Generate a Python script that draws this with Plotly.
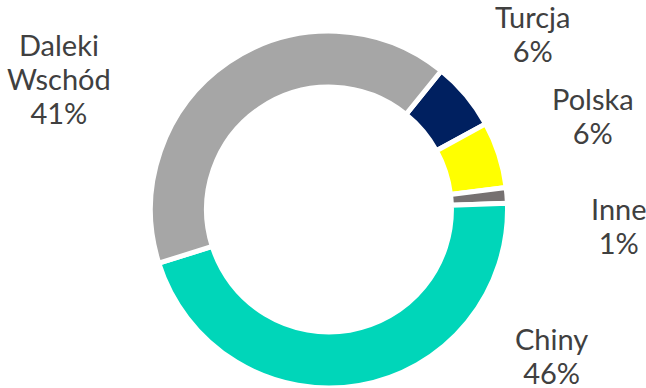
import plotly.graph_objects as go

# Import structure by origin (share, %)
regions = ["Turcja", "Polska", "Inne", "Chiny", "Daleki Wschód"]
shares = [6.2, 6.0, 1.4, 45.7, 40.7]
colors = ["#002060", "#FFFF00", "#767171", "#00D6B9", "#A6A6A6"]

# label anchor points in pixels (x, y) on the 646x388 canvas
label_pos = [(532, 33), (593, 115), (619, 225), (551, 355), (59, 79)]

W, H = 646, 388
cx, cy, R = 329, 209.5, 178.5

fig = go.Figure(
    go.Pie(
        labels=regions,
        values=shares,
        sort=False,
        direction="clockwise",
        rotation=39,
        hole=0.686,
        marker=dict(colors=colors, line=dict(color="white", width=5)),
        textinfo="none",
        hoverinfo="label+percent",
        showlegend=False,
        domain=dict(x=[(cx - 200) / W, (cx + 200) / W],
                    y=[(H - cy - R) / H, (H - cy + R) / H]),
    )
)


def big(s):
    # glyph size larger than the base size keeps the line spacing tight
    return f'<span style="font-size:29px">{s}</span>'


for name, v, (px, py) in zip(regions, shares, label_pos):
    lines = name.split(" ") + [f"{round(v)}%"]
    fig.add_annotation(
        text="<br>".join(big(s) for s in lines),
        x=px / W, y=1 - py / H, xref="paper", yref="paper",
        xanchor="center", yanchor="middle", showarrow=False,
        align="center",
        font=dict(family="Lato", size=26, color="#404040"),
    )

fig.update_layout(
    width=W, height=H,
    margin=dict(l=0, r=0, t=0, b=0),
    paper_bgcolor="white", plot_bgcolor="white",
)

fig.write_html("out.html")
